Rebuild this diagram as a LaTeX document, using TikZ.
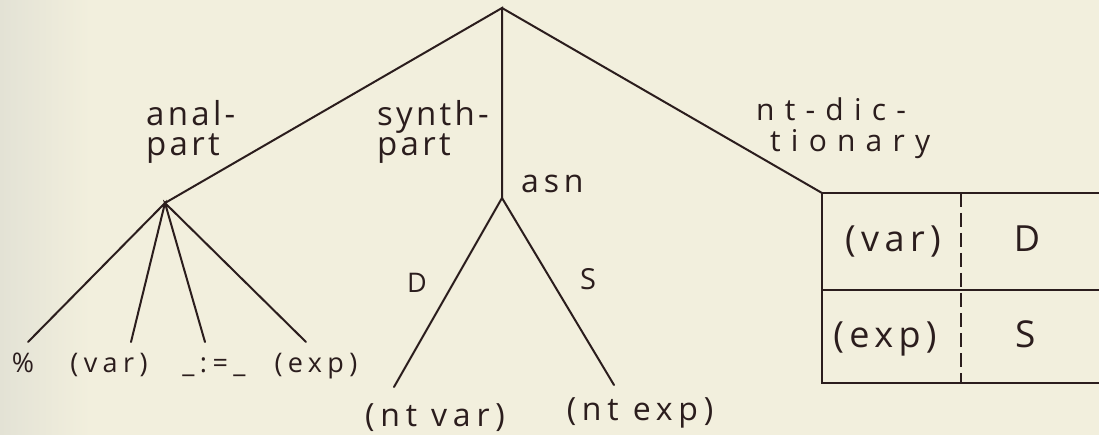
\documentclass[tikz,border=0pt]{standalone}
\usepackage{fontspec}
\setmainfont{Open Sans}
\newfontfamily\handtop[LetterSpace=10]{Open Sans}
\newfontfamily\handwide[LetterSpace=34]{Open Sans}
\newfontfamily\handasn[LetterSpace=15]{Open Sans}
\newfontfamily\handleaf[LetterSpace=20]{Open Sans}
\newfontfamily\handnt[LetterSpace=18]{Open Sans}
\newfontfamily\handcell[LetterSpace=15]{Open Sans}
\definecolor{paper}{HTML}{F2EFDD}
\definecolor{paperedge}{HTML}{E3E2D5}
\definecolor{ink}{HTML}{2B1D1D}
\begin{document}
\begin{tikzpicture}[x=1pt,y=-1pt,
  edge/.style={draw=ink,line width=2pt,line cap=round},
  txt/.style={text=ink,inner sep=0pt,anchor=base},
  txtw/.style={text=ink,inner sep=0pt,anchor=base west},
  toplbl/.style={txtw,font=\handtop\fontsize{33}{33}\selectfont},
  widelbl/.style={txtw,font=\handwide\fontsize{30}{30}\selectfont},
  asnlbl/.style={txtw,font=\handasn\fontsize{32}{32}\selectfont},
  leaf/.style={txt,font=\handleaf\fontsize{27}{27}\selectfont},
  ntleaf/.style={txt,font=\handnt\fontsize{32}{32}\selectfont},
  cell/.style={txt,font=\handcell\fontsize{36}{36}\selectfont}]
\fill[paper] (0,0) rectangle (1099,435);
\shade[left color=paperedge,right color=paper] (0,0) rectangle (90,435);
\useasboundingbox (0,0) rectangle (1099,435);
% tree points
\coordinate (root) at (502,8);
\coordinate (anal) at (165,203);
\coordinate (asn) at (502,198);
\coordinate (dict) at (822,193);
% top-level labels
\node[toplbl] (lanalA) at (146,126) {anal-};
\node[toplbl] (lanalB) at (146,156) {part};
\node[toplbl] (lsynthA) at (377,126) {synth-};
\node[toplbl] (lsynthB) at (377,156) {part};
\node[widelbl] (ldictA) at (756,121) {nt-dic-};
\node[widelbl] (ldictB) at (770,152) {tionary};
\node[asnlbl] (lasn) at (521,193) {asn};
% anal-part leaves
\node[leaf] (pct) at (23,372) {\%};
\node[leaf] (var) at (109,372) {(var)};
\node[leaf] (assign) at (214,372) {\_:=\_};
\node[leaf] (exp) at (316,372) {(exp)};
\coordinate (pctT) at (28,342);
\coordinate (varT) at (131,342);
\coordinate (assignT) at (205,342);
\coordinate (expT) at (306,342);
% asn leaves
\node[ntleaf] (ntvar) at (435,426) {(nt var)};
\node[ntleaf] (ntexp) at (640,420) {(nt exp)};
\coordinate (ntvarT) at (394,387);
\coordinate (ntexpT) at (614,385);
\node[txt,font=\handtop\fontsize{27}{27}\selectfont] (lD) at (417,292) {D};
\node[txt,font=\handtop\fontsize{29}{29}\selectfont] (lS) at (588,290) {S};
% edges
\draw[edge] (anal) -- (root) -- (asn);
\draw[edge] (root) -- (dict);
\draw[edge] (pctT) -- (anal) -- (varT);
\draw[edge] (assignT) -- (anal) -- (expT);
\draw[edge] (ntvarT) -- (asn) -- (ntexpT);
% dictionary table
\coordinate (tbl) at (822,383);
\coordinate (tbr) at (1099,383);
\coordinate (tmr) at (1099,290);
\coordinate (tml) at (822,290);
\coordinate (ttr) at (1099,193);
\coordinate (dtop) at (961,193);
\coordinate (dbot) at (961,383);
\draw[edge,line cap=butt] (ttr) -- (dict) -- (tbl) -- (tbr);
\draw[edge,line cap=butt] (tml) -- (tmr);
\draw[draw=ink,line width=1.3pt,dash pattern=on 14pt off 6pt] (dtop) -- (dbot);
\node[cell] (cvar) at (893,252) {(var)};
\node[cell,font=\handtop\fontsize{36}{36}\selectfont] (cD) at (1027,252) {D};
\node[cell] (cexp) at (885,347) {(exp)};
\node[cell,font=\handtop\fontsize{37}{37}\selectfont] (cS) at (1026,347) {S};
\end{tikzpicture}
\end{document}
